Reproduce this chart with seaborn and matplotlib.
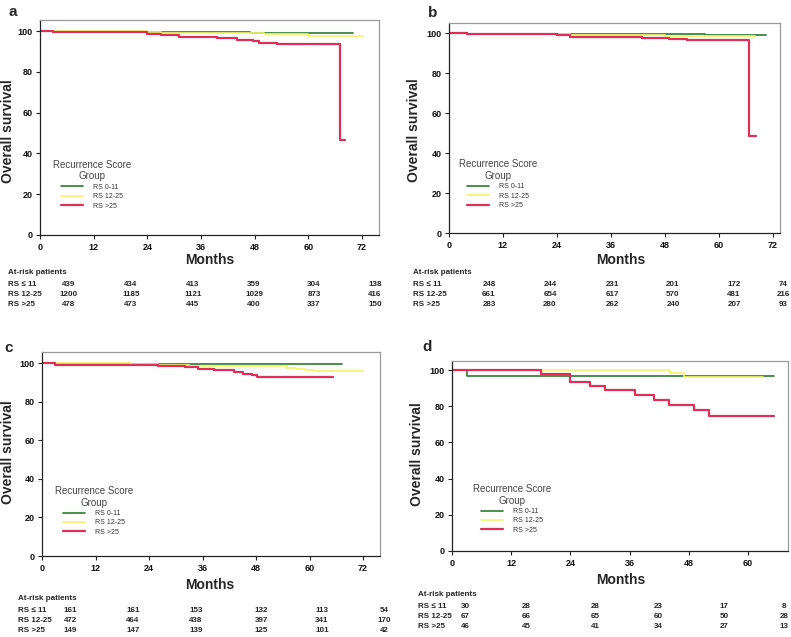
import matplotlib
matplotlib.use("Agg")
import matplotlib.pyplot as plt
import seaborn as sns
import pandas as pd

sns.set_theme(style="white")
plt.rcParams['font.family'] = ['Liberation Sans', 'DejaVu Sans']

# ---------------- data ----------------
groups = ["RS 0-11", "RS 12-25", "RS >25"]
row_labels = ["RS \u2264 11", "RS 12-25", "RS >25"]

# panel a
a_green_t = [0, 3, 26, 47, 70]
a_green_s = [100, 99.6, 99.3, 99.1, 99.1]
a_yellow_t = [0, 12, 24, 27, 50, 60, 72.2]
a_yellow_s = [100, 99.8, 99.4, 99.0, 98.5, 97.4, 97.4]
a_red_t = [0, 3, 15, 24, 27, 31, 36, 39.5, 44, 47.7, 49, 53, 67.1, 68.2]
a_red_s = [100, 99.5, 99.3, 98.7, 97.9, 97.3, 96.9, 96.4, 95.4, 95.0, 94.2, 93.5, 46.6, 46.6]
a_ticks = [0, 12, 24, 36, 48, 60, 72]
a_risk = [[439, 434, 413, 359, 304, 138],
          [1200, 1185, 1121, 1029, 873, 416],
          [478, 473, 445, 400, 337, 150]]

# panel b
b_green_t = [0, 4, 27, 57, 70.4]
b_green_s = [100, 99.6, 99.3, 99.0, 99.0]
b_yellow_t = [0, 4, 15, 27, 35, 48, 68]
b_yellow_s = [100, 99.7, 99.4, 99.0, 98.8, 98.5, 98.5]
b_red_t = [0, 4, 15, 24, 27, 43, 49, 53, 66.8, 68.3]
b_red_s = [100, 99.6, 99.3, 98.9, 98.1, 97.6, 97.1, 96.6, 48.3, 48.3]
b_ticks = [0, 12, 24, 36, 48, 60, 72]
b_risk = [[248, 244, 231, 201, 172, 74],
          [661, 654, 617, 570, 481, 216],
          [283, 280, 262, 240, 207, 93]]

# panel c
c_green_t = [0, 3, 26, 67.2]
c_green_s = [100, 99.5, 99.3, 99.3]
c_yellow_t = [0, 20, 26, 33, 45, 55, 57, 59, 61, 72]
c_yellow_s = [100, 99.6, 99.2, 98.6, 98.2, 97.6, 97.0, 96.6, 95.9, 95.9]
c_red_t = [0, 3, 26, 32, 35, 38.5, 43, 45, 47, 48.3, 65.3]
c_red_s = [100, 99.2, 98.4, 97.8, 97.0, 96.2, 95.2, 94.4, 93.6, 92.6, 92.6]
c_ticks = [0, 12, 24, 36, 48, 60, 72]
c_risk = [[161, 161, 153, 132, 113, 54],
          [472, 464, 438, 397, 341, 170],
          [149, 147, 139, 125, 101, 42]]

# panel d
d_green_t = [0, 3, 65.2]
d_green_s = [100, 96.7, 96.7]
d_yellow_t = [0, 44.1, 47.1, 63]
d_yellow_s = [100, 98.2, 96.1, 96.1]
d_red_t = [0, 18, 24, 28, 31, 37, 41, 44, 49, 52, 65.2]
d_red_s = [100, 97.8, 93.2, 91.0, 88.8, 86.0, 83.3, 80.9, 77.8, 74.4, 74.4]
d_ticks = [0, 12, 24, 36, 48, 60]
d_risk = [[30, 28, 28, 23, 17, 8],
          [67, 66, 65, 60, 50, 28],
          [46, 45, 41, 34, 27, 13]]

colors = ["#2b7a2e", "#f4f466", "#dc2f5a"]
widths = [1.2, 1.2, 1.6]

# ---------------- layout (pixels) ----------------
W, H = 791, 637
fig = plt.figure(figsize=(W / 100, H / 100), dpi=100)


def fx(x):
    return x / W


def fy(y):
    return 1 - y / H


panels = [
    dict(letter="a", box=(40, 379, 20, 235), xmax=75.8, ymax=105.4,
         curves=[(a_green_t, a_green_s), (a_yellow_t, a_yellow_s), (a_red_t, a_red_s)],
         ticks=a_ticks, risk=a_risk, letter_xy=(13, 12), ylab_xy=(8, 131),
         months_xy=(210, 260), head_y=273, rows_y=[284, 294, 304], lab_x=8,
         cols_x=[69, 131, 193, 254, 314, 375], leg=(0.038, 0.35)),
    dict(letter="b", box=(449, 780, 23, 233), xmax=73.6, ymax=105,
         curves=[(b_green_t, b_green_s), (b_yellow_t, b_yellow_s), (b_red_t, b_red_s)],
         ticks=b_ticks, risk=b_risk, letter_xy=(433, 13), ylab_xy=(414, 130),
         months_xy=(621, 260), head_y=273, rows_y=[284, 294, 304], lab_x=413,
         cols_x=[489, 550, 612, 673, 734, 783], leg=(0.03, 0.352)),
    dict(letter="c", box=(42, 380, 352, 556), xmax=75.8, ymax=105.7,
         curves=[(c_green_t, c_green_s), (c_yellow_t, c_yellow_s), (c_red_t, c_red_s)],
         ticks=c_ticks, risk=c_risk, letter_xy=(9, 348), ylab_xy=(8, 452),
         months_xy=(210, 585), head_y=599, rows_y=[611, 621, 631], lab_x=18,
         cols_x=[70, 133, 196, 261, 322, 384], leg=(0.038, 0.343)),
    dict(letter="d", box=(452, 788, 361, 551), xmax=68.1, ymax=105,
         curves=[(d_green_t, d_green_s), (d_yellow_t, d_yellow_s), (d_red_t, d_red_s)],
         ticks=d_ticks, risk=d_risk, letter_xy=(427, 347), ylab_xy=(417, 454),
         months_xy=(621, 580), head_y=595, rows_y=[606, 616, 626], lab_x=418,
         cols_x=[465, 526, 595, 658, 724, 784], leg=(0.0625, 0.353)),
]

for p in panels:
    l, r, t, b = p["box"]
    ax = fig.add_axes([fx(l), fy(b), (r - l) / W, (b - t) / H])
    lines = []
    for (tt, ss), g, c, lw in zip(p["curves"], groups, colors, widths):
        df = pd.DataFrame({"Months": tt, "Survival": ss})
        sns.lineplot(data=df, x="Months", y="Survival", ax=ax, color=c,
                     linewidth=lw, drawstyle="steps-post", estimator=None,
                     sort=False, legend=False)
        ln = ax.get_lines()[-1]
        ln.set_label(g)
        lines.append(ln)
    ax.set_xlim(0, p["xmax"])
    ax.set_ylim(0, p["ymax"])
    ax.set_xticks(p["ticks"])
    ax.set_yticks([0, 20, 40, 60, 80, 100])
    ax.set_xlabel("")
    ax.set_ylabel("")
    for s in ["left", "bottom"]:
        ax.spines[s].set_color("#222222")
        ax.spines[s].set_linewidth(0.9)
    for s in ["top", "right"]:
        ax.spines[s].set_color("#9a9a9a")
        ax.spines[s].set_linewidth(0.9)
    ax.tick_params(axis="both", direction="out", length=3, width=0.8,
                   color="#222222", labelsize=6.5, pad=2.5, bottom=True, left=True)
    for lab in ax.get_xticklabels() + ax.get_yticklabels():
        lab.set_fontweight("bold")
        lab.set_color("#111111")

    leg = ax.legend(handles=lines, labels=groups, title="Recurrence Score\nGroup",
                    loc="upper left", bbox_to_anchor=p["leg"], frameon=False,
                    fontsize=5, title_fontsize=7, borderpad=0, handlelength=3.2,
                    handletextpad=1.4, labelspacing=0.35, borderaxespad=0)
    leg.get_title().set_multialignment("center")
    leg.get_title().set_color("#444444")
    for txt in leg.get_texts():
        txt.set_color("#333333")

    # panel letter
    fig.text(fx(p["letter_xy"][0]), fy(p["letter_xy"][1]), p["letter"],
             fontsize=11, fontweight="bold", ha="center", va="center")
    # y label
    fig.text(fx(p["ylab_xy"][0]), fy(p["ylab_xy"][1]), "Overall survival",
             fontsize=10, fontweight="bold", rotation=90, ha="center", va="center")
    # x label
    fig.text(fx(p["months_xy"][0]), fy(p["months_xy"][1]), "Months",
             fontsize=10, fontweight="bold", ha="center", va="center")
    # at-risk table
    fig.text(fx(p["lab_x"]), fy(p["head_y"]), "At-risk patients",
             fontsize=5.8, fontweight="bold", ha="left", va="center")
    for rl, vals, yy in zip(row_labels, p["risk"], p["rows_y"]):
        fig.text(fx(p["lab_x"]), fy(yy), rl, fontsize=5.8, fontweight="bold",
                 ha="left", va="center")
        for v, xx in zip(vals, p["cols_x"]):
            fig.text(fx(xx), fy(yy), str(v), fontsize=5.8, fontweight="bold",
                     ha="center", va="center")

fig.savefig("out.png", dpi=100)
